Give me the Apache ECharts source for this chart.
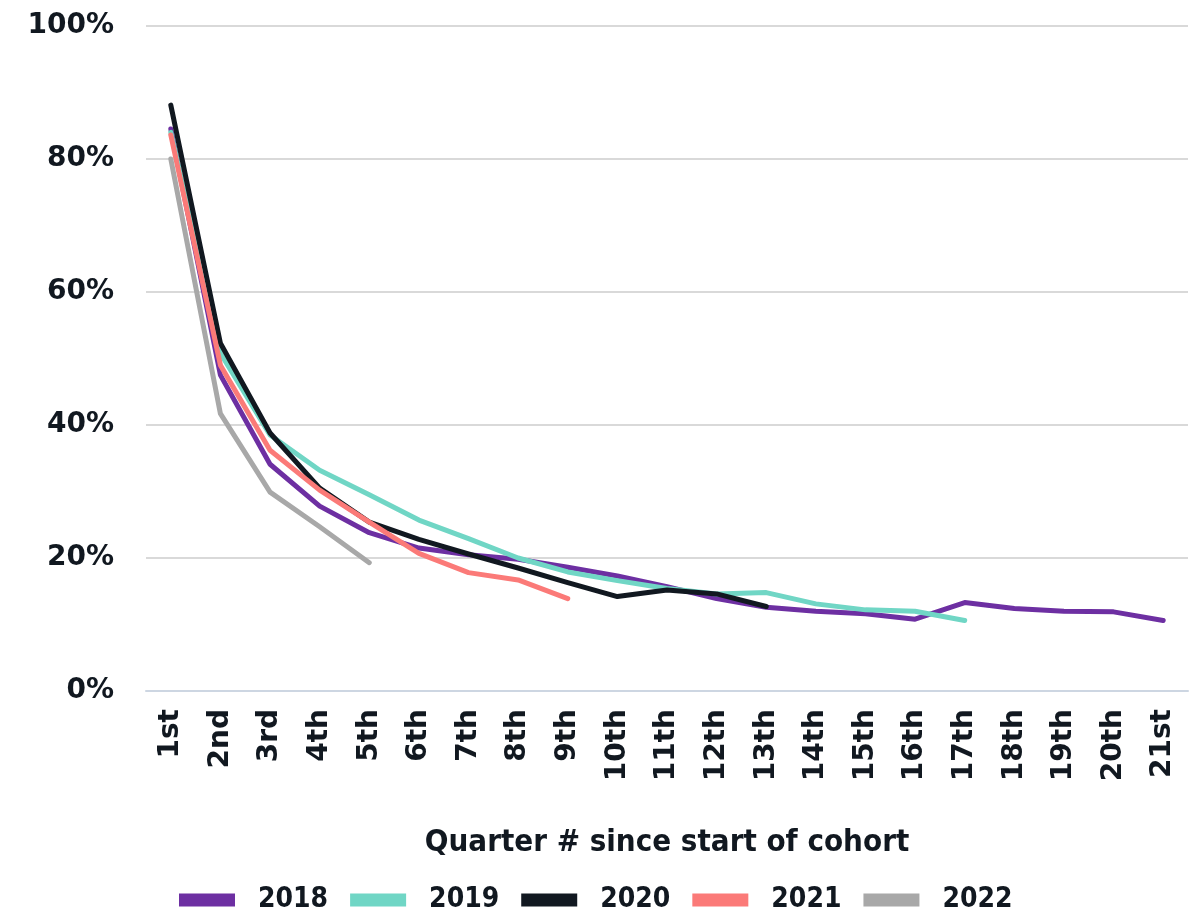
<!DOCTYPE html>
<html>
<head>
<meta charset="utf-8">
<title>Cohort retention by quarter</title>
<script src="https://cdn.jsdelivr.net/npm/echarts@6/dist/echarts.min.js"></script>
<style>
  html, body { margin: 0; padding: 0; background: #ffffff; }
  #chart { width: 1191px; height: 922px; }
</style>
</head>
<body>
<div id="chart"></div>
<script>
// Quarter labels along the x axis
const quarters = ['1st', '2nd', '3rd', '4th', '5th', '6th', '7th', '8th', '9th', '10th',
  '11th', '12th', '13th', '14th', '15th', '16th', '17th', '18th', '19th', '20th', '21st'];

// Share of the cohort still active (%), one array per starting year
const cohort2018 = [84.5, 47.5, 34.1, 27.8, 23.8, 21.5, 20.5, 19.8, 18.6, 17.3, 15.7, 13.9, 12.6, 12.0, 11.6, 10.8, 13.3, 12.4, 12.0, 11.9, 10.6];
const cohort2019 = [84.0, 50.8, 38.5, 33.2, 29.5, 25.7, 22.9, 20.0, 17.9, 16.6, 15.4, 14.6, 14.8, 13.1, 12.2, 12.0, 10.6];
const cohort2020 = [88.1, 52.3, 38.8, 30.5, 25.4, 22.8, 20.6, 18.5, 16.3, 14.2, 15.2, 14.6, 12.7];
const cohort2021 = [83.6, 49.0, 36.2, 30.2, 25.4, 20.7, 17.8, 16.7, 13.9];
const cohort2022 = [80.0, 41.7, 29.9, 24.7, 19.3];

const yearNames = ['2018', '2019', '2020', '2021', '2022'];
const yearColors = ['#6d2fa2', '#70d6c5', '#111820', '#fb7a78', '#a8a8a8'];
const yearData = [cohort2018, cohort2019, cohort2020, cohort2021, cohort2022];

const chart = echarts.init(document.getElementById('chart'), null, { renderer: 'canvas' });

const tickFont = 'DejaVu Sans';
const titleFont = 'DejaVu Sans Condensed';

chart.setOption({
  animation: false,
  backgroundColor: '#ffffff',
  grid: { left: 146, right: 3, top: 26, bottom: 231, containLabel: false },
  legend: {
    data: yearNames,
    left: 174,
    top: 881,
    icon: 'rect',
    itemWidth: 56,
    itemHeight: 13,
    itemGap: 22,
    textStyle: {
      fontFamily: titleFont,
      fontWeight: 'bold',
      fontSize: 28,
      color: '#111820',
      padding: [0, 0, 0, 18]
    }
  },
  xAxis: {
    type: 'category',
    data: quarters,
    boundaryGap: true,
    axisLine: { show: true, lineStyle: { color: '#cdd6e2', width: 2 } },
    axisTick: { show: false },
    axisLabel: {
      interval: 0,
      rotate: 90,
      margin: 18,
      fontFamily: tickFont,
      fontWeight: 'bold',
      fontSize: 28,
      color: '#111820'
    },
    name: 'Quarter # since start of cohort',
    nameLocation: 'middle',
    nameGap: 136,
    nameTextStyle: {
      fontFamily: titleFont,
      fontWeight: 'bold',
      fontSize: 31,
      color: '#111820'
    }
  },
  yAxis: {
    type: 'value',
    min: 0,
    max: 100,
    interval: 20,
    axisLine: { show: false },
    axisTick: { show: false },
    splitLine: { lineStyle: { color: '#d9d9d9', width: 2 } },
    axisLabel: {
      margin: 32,
      formatter: '{value}%',
      fontFamily: tickFont,
      fontWeight: 'bold',
      fontSize: 28,
      color: '#111820'
    }
  },
  series: yearNames.map((name, i) => ({
    name: name,
    type: 'line',
    data: yearData[i],
    showSymbol: false,
    symbol: 'none',
    smooth: false,
    color: yearColors[i],
    lineStyle: { width: 5, color: yearColors[i], cap: 'round', join: 'round' },
    z: 2 + i
  }))
});
</script>
</body>
</html>
